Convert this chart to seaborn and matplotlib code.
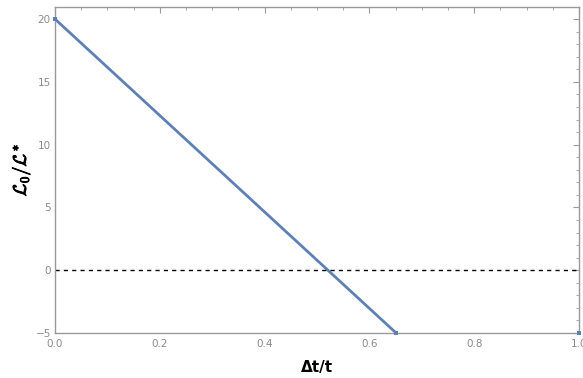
import matplotlib
matplotlib.use("Agg")
import matplotlib.pyplot as plt
import matplotlib.patheffects as pe
import seaborn as sns
import pandas as pd
from matplotlib.ticker import MultipleLocator

# data
x_line = [0.0, 0.651]
y_line = [20.0, -5.0]
x_pts = [0.0, 0.651, 1.0]
y_pts = [20.0, -5.0, -5.0]
x_ticks = [0.0, 0.2, 0.4, 0.6, 0.8, 1.0]
y_ticks = [-5, 0, 5, 10, 15, 20]
ref_level = 0.0

sns.set_style("white")
plt.rcParams['font.family'] = ['DejaVu Sans']
plt.rcParams['mathtext.fontset'] = 'cm'

fig = plt.figure(figsize=(5.83, 3.78), dpi=100)
ax = fig.add_axes([55/583, 45/378, (579-55)/583, (333-7)/378])

blue = "#5E81B5"
gray = "#999999"
df = pd.DataFrame({"x": x_line, "y": y_line})
sns.lineplot(data=df, x="x", y="y", ax=ax, color=blue, lw=2.0, clip_on=True)
sns.scatterplot(x=x_pts, y=y_pts, ax=ax, color=blue, marker="s", s=10,
                linewidth=0, clip_on=False, zorder=5)
ax.axhline(ref_level, color="black", lw=1.0, ls=(0, (3, 3)))

ax.set_xlim(0, 1)
ax.set_ylim(-5, 20.96)
ax.set_xticks(x_ticks)
ax.set_xticklabels([f"{v:.1f}" for v in x_ticks])
ax.set_yticks(y_ticks)
ax.xaxis.set_minor_locator(MultipleLocator(0.05))
ax.yaxis.set_minor_locator(MultipleLocator(1))

for s in ax.spines.values():
    s.set_visible(True)
    s.set_color(gray)
    s.set_linewidth(1.0)

ax.tick_params(which="both", direction="in", top=True, right=True,
               color=gray, labelcolor="#8a8a8a", labelsize=7.5)
ax.tick_params(which="major", length=4, width=0.8, pad=3)
ax.tick_params(which="minor", length=2, width=0.6)
ax.tick_params(axis="x", which="major", pad=4)

ax.set_xlabel("Δt/t", fontsize=11, fontweight="bold", color="black", labelpad=8)
yl = ax.set_ylabel(r"$\mathcal{L}_0/\mathcal{L}^*$", fontsize=13, color="black", labelpad=2)
yl.set_path_effects([pe.withStroke(linewidth=0.7, foreground="black")])
ax.grid(False)

fig.savefig("out.png", dpi=100)
